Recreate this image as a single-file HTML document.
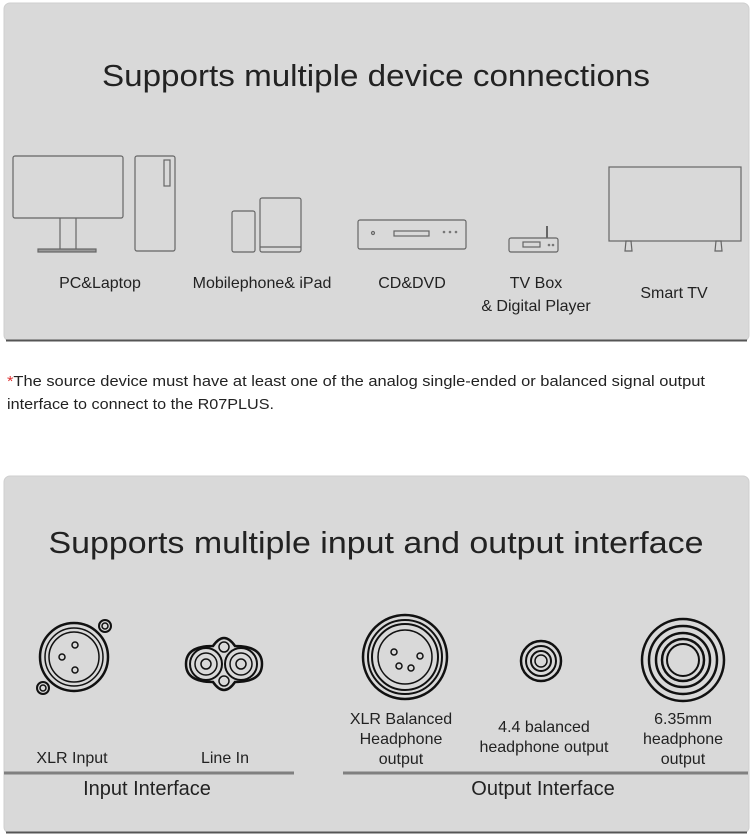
<!DOCTYPE html>
<html><head><meta charset="utf-8"><style>
html,body{margin:0;padding:0;background:#fff;}
svg{display:block;}
text{font-family:"Liberation Sans",sans-serif;fill:#222;}
</style></head><body>
<svg width="753" height="837" viewBox="0 0 753 837" xmlns="http://www.w3.org/2000/svg">
<!-- panels -->
<rect x="4" y="3" width="745" height="338" rx="6" fill="#d9d9d9" stroke="#cfcfcf"/>
<line x1="6" y1="340.5" x2="747" y2="340.5" stroke="#555" stroke-width="2"/>
<rect x="4" y="476" width="745" height="357" rx="6" fill="#d9d9d9" stroke="#cfcfcf"/>
<line x1="6" y1="832.5" x2="747" y2="832.5" stroke="#555" stroke-width="2"/>

<text x="376" y="86" font-size="31" text-anchor="middle" textLength="548" lengthAdjust="spacingAndGlyphs">Supports multiple device connections</text>

<g fill="none" stroke="#666" stroke-width="1.2">
 <!-- monitor -->
 <rect x="13" y="156" width="110" height="62" rx="2"/>
 <line x1="60" y1="218" x2="60" y2="249"/><line x1="76" y1="218" x2="76" y2="249"/>
 <rect x="38" y="249" width="58" height="3" fill="#999"/>
 <!-- tower -->
 <rect x="135" y="156" width="40" height="95" rx="2"/>
 <rect x="164" y="160" width="6" height="26"/>
 <!-- phone/tablet -->
 <rect x="232" y="211" width="23" height="41" rx="2"/>
 <rect x="260" y="198" width="41" height="54" rx="2"/>
 <line x1="260" y1="247" x2="301" y2="247"/>
 <!-- cd -->
 <rect x="358" y="220" width="108" height="29" rx="2"/>
 <rect x="394" y="231" width="35" height="5"/>
 <circle cx="373" cy="233" r="1.5"/>
 <!-- tv box -->
 <rect x="509" y="238" width="49" height="14" rx="2"/>
 <rect x="523" y="242" width="17" height="5"/>
 <line x1="547" y1="226" x2="547" y2="238" stroke-width="2"/>
 <!-- TV -->
 <rect x="609" y="167" width="132" height="74"/>
 <path d="M626 241 L631 241 L632 251 L625 251 Z"/><path d="M716 241 L721 241 L722 251 L715 251 Z"/>
</g>
<g fill="#777"><circle cx="444" cy="232" r="1.3"/><circle cx="450" cy="232" r="1.3"/><circle cx="456" cy="232" r="1.3"/><circle cx="549" cy="245" r="1.3"/><circle cx="553" cy="245" r="1.3"/></g>

<g font-size="16" text-anchor="middle">
<text x="100" y="288">PC&amp;Laptop</text>
<text x="262" y="288">Mobilephone&amp; iPad</text>
<text x="412" y="288">CD&amp;DVD</text>
<text x="536" y="288">TV Box</text>
<text x="536" y="311">&amp; Digital Player</text>
<text x="674" y="298">Smart TV</text>
</g>

<text x="7" y="386" font-size="15" textLength="698" lengthAdjust="spacingAndGlyphs"><tspan style="fill:#d33">*</tspan>The source device must have at least one of the analog single-ended or balanced signal output</text>
<text x="7" y="409" font-size="15" textLength="267" lengthAdjust="spacingAndGlyphs">interface to connect to the R07PLUS.</text>

<text x="376" y="553" font-size="31" text-anchor="middle" textLength="655" lengthAdjust="spacingAndGlyphs">Supports multiple input and output interface</text>

<g fill="none" stroke="#111">
 <!-- XLR input -->
 <circle cx="74" cy="657" r="34" stroke-width="2.5"/>
 <circle cx="74" cy="657" r="29" stroke-width="1.5"/>
 <circle cx="74" cy="657" r="25" stroke-width="1.5"/>
 <circle cx="75" cy="645" r="3" stroke-width="1.5"/><circle cx="62" cy="657" r="3" stroke-width="1.5"/><circle cx="75" cy="670" r="3" stroke-width="1.5"/>
 <circle cx="105" cy="626" r="6" stroke-width="2"/><circle cx="105" cy="626" r="3" stroke-width="1.5"/>
 <circle cx="43" cy="688" r="6" stroke-width="2"/><circle cx="43" cy="688" r="3" stroke-width="1.5"/>
 <!-- Line in -->
 <path d="M213 646 Q224 630 235 646 Q262 646 262 664 Q262 682 235 682 Q224 698 213 682 Q186 682 186 664 Q186 646 213 646 Z" stroke-width="2.5"/>
 <circle cx="206" cy="664" r="16" stroke-width="2"/><circle cx="206" cy="664" r="11" stroke-width="1.5"/><circle cx="206" cy="664" r="5" stroke-width="1.5"/>
 <circle cx="241" cy="664" r="16" stroke-width="2"/><circle cx="241" cy="664" r="11" stroke-width="1.5"/><circle cx="241" cy="664" r="5" stroke-width="1.5"/>
 <circle cx="224" cy="647" r="5" stroke-width="1.5"/><circle cx="224" cy="681" r="5" stroke-width="1.5"/>
 <!-- XLR out -->
 <circle cx="405" cy="657" r="42" stroke-width="2.5"/>
 <circle cx="405" cy="657" r="37" stroke-width="2"/>
 <circle cx="405" cy="657" r="33" stroke-width="2"/>
 <circle cx="405" cy="657" r="27" stroke-width="1.5"/>
 <circle cx="394" cy="652" r="3" stroke-width="1.5"/><circle cx="420" cy="656" r="3" stroke-width="1.5"/><circle cx="399" cy="666" r="3" stroke-width="1.5"/><circle cx="411" cy="668" r="3" stroke-width="1.5"/>
 <!-- 4.4 -->
 <circle cx="541" cy="661" r="20" stroke-width="2.5"/><circle cx="541" cy="661" r="15" stroke-width="2"/><circle cx="541" cy="661" r="10" stroke-width="2"/><circle cx="541" cy="661" r="6" stroke-width="1.5"/>
 <!-- 6.35 -->
 <circle cx="683" cy="660" r="41" stroke-width="2.5"/><circle cx="683" cy="660" r="34" stroke-width="2.5"/><circle cx="683" cy="660" r="27" stroke-width="2.5"/><circle cx="683" cy="660" r="21" stroke-width="2.5"/><circle cx="683" cy="660" r="16" stroke-width="2"/>
</g>

<g font-size="16" text-anchor="middle">
<text x="72" y="763">XLR Input</text>
<text x="225" y="763">Line In</text>
<text x="401" y="724">XLR Balanced</text>
<text x="401" y="744">Headphone</text>
<text x="401" y="764">output</text>
<text x="544" y="732">4.4 balanced</text>
<text x="544" y="752">headphone output</text>
<text x="683" y="724">6.35mm</text>
<text x="683" y="744">headphone</text>
<text x="683" y="764">output</text>
</g>
<line x1="4" y1="773" x2="294" y2="773" stroke="#808080" stroke-width="3"/>
<line x1="343" y1="773" x2="748" y2="773" stroke="#808080" stroke-width="3"/>
<text x="147" y="795" font-size="20" text-anchor="middle">Input Interface</text>
<text x="543" y="795" font-size="20" text-anchor="middle">Output Interface</text>
</svg>
</body></html>
